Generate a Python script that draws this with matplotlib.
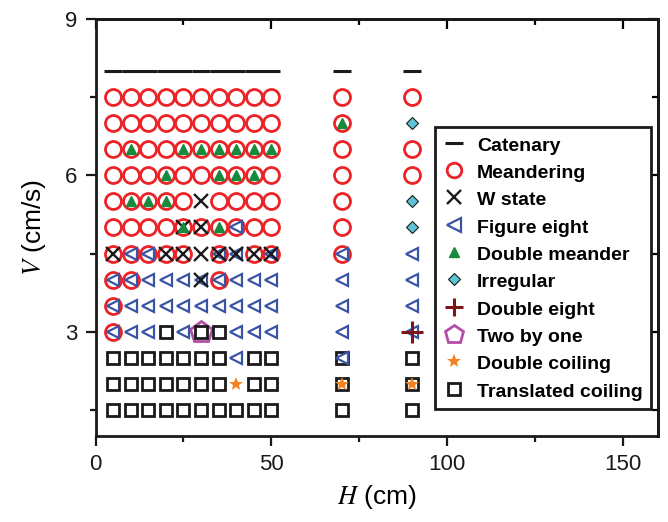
import matplotlib
matplotlib.use("Agg")
import matplotlib.pyplot as plt
from matplotlib.ticker import MultipleLocator

plt.rcParams["font.family"] = ["Liberation Sans", "DejaVu Sans"]
plt.rcParams["mathtext.fontset"] = "stix"

# grid of nozzle heights (cm)
grid = [5, 10, 15, 20, 25, 30, 35, 40, 45, 50]

# catenary, V = 8
cat_H = grid + [70, 90]
cat_V = [8.0] * 12

# meandering
mea_H = (grid + [70, 90] + grid + [70] + grid + [70, 90] + grid + [70, 90]
         + [5, 10, 15, 20, 25, 35, 40, 45, 50, 70] + grid + [70]
         + [5, 10, 15, 20, 25, 35, 45, 50, 70] + [5, 10, 35] + [5] + [5])
mea_V = ([7.5] * 12 + [7.0] * 11 + [6.5] * 12 + [6.0] * 12
         + [5.5] * 10 + [5.0] * 11 + [4.5] * 9 + [4.0] * 3 + [3.5] + [3.0])

# W state
w_H = [30, 25, 30, 5, 20, 25, 30, 35, 40, 45, 50, 30]
w_V = [5.5, 5.0, 5.0, 4.5, 4.5, 4.5, 4.5, 4.5, 4.5, 4.5, 4.5, 4.0]

# figure eight
f8_H = ([40] + [10, 15, 35, 40, 50, 70, 90] + grid + [70, 90] + grid + [70, 90]
        + [5, 10, 15, 25, 40, 45, 50, 70, 90] + [40, 70])
f8_V = ([5.0] + [4.5] * 7 + [4.0] * 12 + [3.5] * 12 + [3.0] * 9 + [2.5] * 2)

# double meander
dm_H = [70, 10, 25, 30, 35, 40, 45, 50, 20, 35, 40, 45, 10, 15, 20, 25, 35]
dm_V = [7.0] + [6.5] * 7 + [6.0] * 4 + [5.5] * 3 + [5.0] * 2

# irregular
irr_H = [90, 90, 90]
irr_V = [7.0, 5.5, 5.0]

# double eight
de_H = [90]
de_V = [3.0]

# two by one
tb_H = [30]
tb_V = [3.0]

# double coiling
dc_H = [40, 70, 90]
dc_V = [2.0, 2.0, 2.0]

# translated coiling
tc_H = ([20, 30, 35] + [5, 10, 15, 20, 25, 30, 35, 45, 50, 70, 90]
        + [5, 10, 15, 20, 25, 30, 35, 45, 50, 70, 90] + grid + [70, 90])
tc_V = [3.0] * 3 + [2.5] * 11 + [2.0] * 11 + [1.5] * 12

fig = plt.figure(figsize=(6.68, 5.22), dpi=100)
ax = fig.add_axes([0.143, 0.1648, 0.842, 0.799])

ax.plot(cat_H, cat_V, ls="none", marker="_", ms=12.7, mew=2.2, color="#1a1a1a",
        label="Catenary", zorder=3)
ax.plot(mea_H, mea_V, ls="none", marker="o", ms=11.5, mew=2.0, mfc="none",
        mec="#ec2227", label="Meandering", zorder=3)
ax.plot(tb_H, tb_V, ls="none", marker="p", ms=16, mew=2.0, mfc="none",
        mec="#b54da6", label="Two by one", zorder=3)
ax.plot(tc_H, tc_V, ls="none", marker="s", ms=8.4, mew=2.0, mfc="none",
        mec="#1a1a1a", label="Translated coiling", zorder=4)
ax.plot(f8_H, f8_V, ls="none", marker="<", ms=8.5, mew=1.6, mfc="none",
        mec="#3954a5", label="Figure eight", zorder=5)
ax.plot(w_H, w_V, ls="none", marker="x", ms=10, mew=1.7, color="#1a1a1a",
        label="W state", zorder=6)
ax.plot(dm_H, dm_V, ls="none", marker="^", ms=7.5, color="#188a3d",
        label="Double meander", zorder=6)
ax.plot(irr_H, irr_V, ls="none", marker="D", ms=6.5, mfc="#5dc4d6", mec="#1a1a1a",
        mew=0.8, label="Irregular", zorder=6)
ax.plot(de_H, de_V, ls="none", marker="+", ms=16, mew=2.2, color="#7b1519",
        label="Double eight", zorder=7)
ax.plot(dc_H, dc_V, ls="none", marker="*", ms=10, color="#f5821f", mew=0,
        label="Double coiling", zorder=7)

ax.set_xlim(0, 160)
ax.set_ylim(1, 9)
ax.xaxis.set_major_locator(MultipleLocator(50))
ax.xaxis.set_minor_locator(MultipleLocator(25))
ax.yaxis.set_major_locator(MultipleLocator(3))
ax.yaxis.set_minor_locator(MultipleLocator(1.5))

for s in ax.spines.values():
    s.set_linewidth(2.0)
    s.set_color("#1a1a1a")

ax.tick_params(which="both", direction="out", width=1.6, colors="#1a1a1a",
               labelsize=16, top=False, right=False)
ax.tick_params(which="major", length=7, pad=6)
ax.tick_params(which="minor", length=4)

# inward ticks on the top and right sides
top = ax.secondary_xaxis("top")
top.xaxis.set_major_locator(MultipleLocator(50))
top.xaxis.set_minor_locator(MultipleLocator(25))
top.tick_params(which="both", direction="in", width=1.6, labeltop=False)
top.tick_params(which="major", length=7)
top.tick_params(which="minor", length=4)
top.spines["top"].set_linewidth(2.0)
right = ax.secondary_yaxis("right")
right.yaxis.set_major_locator(MultipleLocator(3))
right.yaxis.set_minor_locator(MultipleLocator(1.5))
right.tick_params(which="both", direction="in", width=1.6, labelright=False)
right.tick_params(which="major", length=7)
right.tick_params(which="minor", length=4)
right.spines["right"].set_linewidth(2.0)

ax.set_xlabel("$H$ (cm)", fontsize=19, labelpad=6)
ax.set_ylabel("$V$ (cm/s)", fontsize=19, labelpad=12)

order = ["Catenary", "Meandering", "W state", "Figure eight", "Double meander",
         "Irregular", "Double eight", "Two by one", "Double coiling",
         "Translated coiling"]
handles, labels = ax.get_legend_handles_labels()
hmap = dict(zip(labels, handles))
leg = ax.legend([hmap[k] for k in order], order, loc="upper left",
                bbox_to_anchor=(0.604, 0.742), borderaxespad=0, borderpad=0.4,
                handlelength=1.1, handleheight=1.2, handletextpad=0.65,
                labelspacing=0.35, fancybox=False, edgecolor="#1a1a1a",
                framealpha=1, prop={"weight": "bold", "size": 14})
leg.get_frame().set_linewidth(2.0)

# legend symbols are drawn at a common size
leg_ms = {"Meandering": 10.5, "Figure eight": 10, "Two by one": 13.5,
          "Double eight": 13.5, "W state": 10.5}
for h, name in zip(leg.legend_handles, order):
    if name in leg_ms:
        h.set_markersize(leg_ms[name])

fig.savefig("out.png", dpi=100)
